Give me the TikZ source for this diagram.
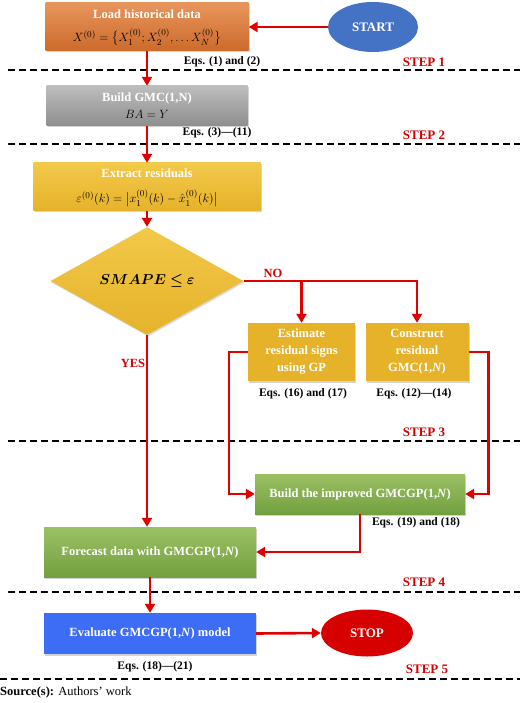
\documentclass[tikz,border=0pt]{standalone}
\usepackage{fontspec}
\setmainfont{Liberation Serif}
\usepackage{amsmath,bm}
\usetikzlibrary{shapes.geometric,arrows.meta,shadows}
\definecolor{orTop}{HTML}{E8955C}
\definecolor{orBot}{HTML}{CC6A2A}
\definecolor{grTop}{HTML}{BDBDBD}
\definecolor{grBot}{HTML}{8E8E8E}
\definecolor{gdTop}{HTML}{F2C94A}
\definecolor{gdBot}{HTML}{E6B22A}
\definecolor{gnTop}{HTML}{9CC065}
\definecolor{gnBot}{HTML}{72A03F}
\definecolor{evBlue}{HTML}{3D6CF5}
\definecolor{stBlue}{HTML}{4472C4}
\definecolor{spRed}{HTML}{D60000}
\definecolor{lnRed}{HTML}{E00000}
\begin{document}
\begin{tikzpicture}[x=1pt,y=-1pt,
  box/.style={rectangle, inner sep=0pt, align=center, text=white,
    font=\bfseries\fontsize{12.5}{17}\selectfont,
    drop shadow={opacity=0.35, shadow xshift=1pt, shadow yshift=-1.5pt}},
  title/.style={inner sep=0pt, text=white, font=\bfseries\fontsize{12.5}{15}\selectfont},
  term/.style={ellipse, inner sep=0pt, text=white,
    font=\bfseries\fontsize{13}{15}\selectfont},
  arr/.style={draw=lnRed, line width=2.6pt,
    -{Triangle[length=9pt,width=10pt]}},
  sep/.style={draw=black, line width=2pt, dash pattern=on 7pt off 4pt},
  eqs/.style={font=\bfseries\fontsize{11.5}{13}\selectfont},
  steplab/.style={text=spRed, font=\bfseries\fontsize{13}{15}\selectfont},
  yn/.style={text=spRed, font=\bfseries\fontsize{12.5}{15}\selectfont},
  formula/.style={inner sep=0pt, text=black, font=\fontsize{12.5}{15}\selectfont}]
\useasboundingbox (0,0) rectangle (520,703);

% nodes
\node[box, top color=orTop, bottom color=orBot, minimum width=203pt, minimum height=48pt] (load) at (147,27) {};
\node[title] (loadt) at (147,14) {Load historical data};
\node[formula] (loadf) at (147,37) {$X^{(0)}=\bigl\{X_1^{(0)};X_2^{(0)},\ldots X_N^{(0)}\bigr\}$};
\node[term, fill=stBlue, minimum width=90pt, minimum height=50pt] (start) at (373,27) {START};
\node[box, top color=grTop, bottom color=grBot, minimum width=201pt, minimum height=40pt] (gmc) at (147,106) {};
\node[title] (gmct) at (147,98) {Build GMC(1,N)};
\node[formula] (gmcf) at (147,114) {$BA=Y$};
\node[box, top color=gdTop, bottom color=gdBot, minimum width=227pt, minimum height=48pt] (ext) at (147,187) {};
\node[title] (extt) at (147,173) {Extract residuals};
\node[formula] (extf) at (147,198) {$\varepsilon^{(0)}(k)=\bigl|x_1^{(0)}(k)-\hat{x}_1^{(0)}(k)\bigr|$};
\node[diamond, inner sep=0pt, minimum width=193pt, minimum height=104pt, top color=gdTop, bottom color=gdBot,
  drop shadow={opacity=0.3, shadow xshift=1pt, shadow yshift=-1.5pt},
  font=\fontsize{14}{16}\selectfont] (dia) at (147,281) {$\bm{SMAPE\le\varepsilon}$};
\node[box, fill=gdBot, minimum width=107pt, minimum height=58pt] (est) at (301.5,352)
  {Estimate\\residual signs\\using GP};
\node[box, fill=gdBot, minimum width=103pt, minimum height=58pt] (con) at (417,352)
  {Construct\\residual\\GMC(1,\textit{N})};
\node[box, top color=gnTop, bottom color=gnBot, minimum width=210pt, minimum height=40pt] (imp) at (360,494)
  {Build the improved GMCGP(1,\textit{N})};
\node[box, top color=gnTop, bottom color=gnBot, minimum width=212pt, minimum height=50pt] (fore) at (150,552)
  {Forecast data with GMCGP(1,\textit{N})};
\node[box, fill=evBlue, minimum width=212pt, minimum height=41pt] (eval) at (150,633.5)
  {Evaluate GMCGP(1,\textit{N}) model};
\node[term, fill=spRed, minimum width=92pt, minimum height=47pt] (stop) at (367,633) {STOP};

% separators
\draw[sep] (8,70) -- (520,70);
\draw[sep] (8,144) -- (520,144);
\draw[sep] (8,441) -- (520,441);
\draw[sep] (8,592) -- (520,592);
\draw[sep] (0,679) -- (520,679);

% labels
\node[eqs] (e1) at (222,62) {Eqs. (1) and (2)};
\node[eqs] (e2) at (217,133) {Eqs. (3)---(11)};
\node[eqs] (e3) at (303,394) {Eqs. (16) and (17)};
\node[eqs] (e4) at (414,394) {Eqs. (12)---(14)};
\node[eqs] (e5) at (416,523) {Eqs. (19) and (18)};
\node[eqs] (e6) at (155,667) {Eqs. (18)---(21)};
\node[steplab] (s1) at (424,62) {STEP 1};
\node[steplab] (s2) at (424,135) {STEP 2};
\node[steplab] (s3) at (424,432) {STEP 3};
\node[steplab] (s4) at (424,582) {STEP 4};
\node[steplab] (s5) at (427,669) {STEP 5};
\node[yn] (no) at (273,273) {NO};
\node[yn] (yes) at (133,363) {YES};
\node[anchor=west, inner sep=0pt, font=\fontsize{12.5}{15}\selectfont] (src) at (0,692)
  {\textbf{Source(s):} Authors' work};

% connectors
\draw[arr] (start.west) -- (load.east);
\draw[arr] (load.south) -- (gmc.north);
\draw[arr] (gmc.south) -- (ext.north);
\draw[arr] (ext.south) -- (dia.north);
\draw[arr] (dia.east) -| (est.north);
\draw[arr] (dia.east) -| (con.north);
\draw[arr] (est.west) -- ++(-19,0) |- (imp.west);
\draw[arr] (con.east) -- ++(20,0) |- (imp.east);
\draw[arr] (imp.south) |- (fore.east);
\draw[arr] (dia.south) -- (dia.south |- fore.north);
\draw[arr] (fore.south -| eval.north) -- (eval.north);
\draw[arr] (eval.east) -- (stop.west);
\end{tikzpicture}
\end{document}
